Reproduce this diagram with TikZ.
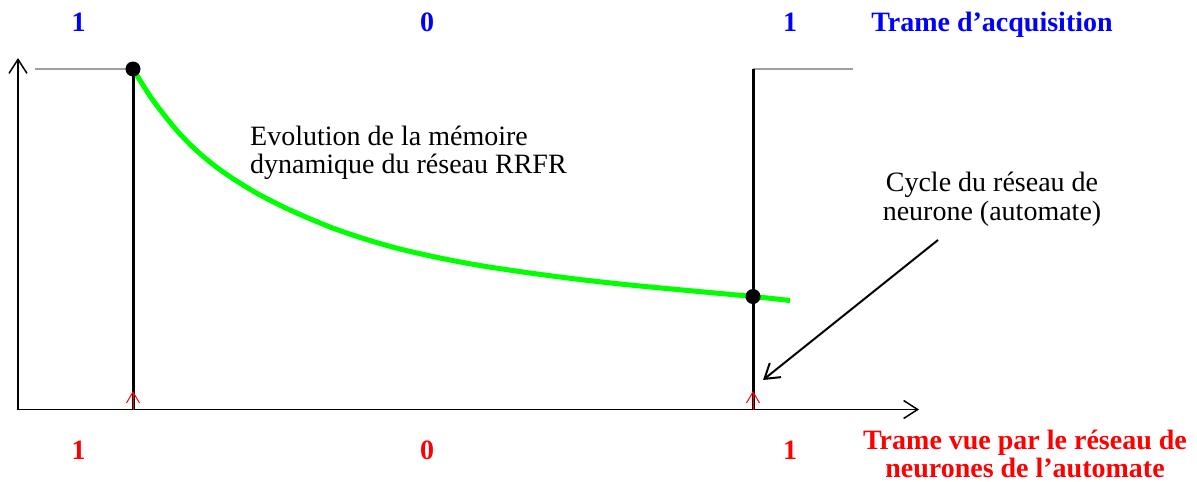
\documentclass[tikz,border=0pt]{standalone}
\usepackage{fontspec}
\setmainfont{Liberation Serif}
\usetikzlibrary{arrows.meta}
\definecolor{lgray}{RGB}{160,160,160}
\definecolor{pgreen}{RGB}{0,255,0}
\begin{document}
\begin{tikzpicture}[x=1pt,y=-1pt,
  axis/.style={line width=1.5pt,-{Straight Barb[length=14pt,width=18pt,line width=1.5pt]}},
  cyc/.style={line width=3pt},
  lvl/.style={line width=2pt,lgray},
  tickarr/.style={red,line width=1pt,-{Straight Barb[length=11pt,width=13pt,line width=1pt]}},
  pointer/.style={line width=2pt,-{Straight Barb[length=14pt,width=18pt,line width=2pt]}},
  dot/.style={circle,fill=black,inner sep=0pt,minimum size=15pt},
  bluelab/.style={blue,inner sep=0pt,anchor=base,font=\fontsize{28}{30}\selectfont\bfseries},
  redlab/.style={red,inner sep=0pt,anchor=base,font=\fontsize{28}{24}\selectfont\bfseries},
  txt/.style={inner sep=0pt,font=\fontsize{28}{28}\selectfont}
]
\useasboundingbox (0,0) rectangle (1197,482);

% axes
\coordinate (O) at (18,409.5);
\coordinate (Ytop) at (18,58);
\coordinate (Xend) at (919,409.5);
\draw[axis] (O) -- (Ytop);
\draw[axis] (O) -- (Xend);

% key points
\coordinate (p1) at (133,69);
\coordinate (p2) at (753,296.5);
\coordinate (c1b) at (133,409.5);
\coordinate (c2b) at (753,409.5);
\coordinate (c2t) at (753,69);
\coordinate (g1) at (35,69);
\coordinate (g2) at (853,69);

% level lines
\draw[lvl] (g1) -- (p1);
\draw[lvl] (c2t) -- (g2);

% cycle lines
\draw[cyc] (c1b) -- (p1);
\draw[cyc] (c2b) -- (c2t);

% green curve
\draw[pgreen,line width=5pt] plot[smooth,tension=0.5] coordinates {(133,69) (150,96) (165,116) (180,134) (197,151) (215,166) (235,180) (260,195) (290,210) (330,227) (365,239) (400,249) (440,258) (480,265.5) (530,273) (580,279.5) (630,285) (690,290.7) (753,296.5) (790,300.5)};

% dots
\node[dot] (d1) at (p1) {};
\node[dot] (d2) at (p2) {};

% red ticks
\coordinate (t1) at (133,391);
\coordinate (t2) at (753,391);
\draw[tickarr] (c1b) -- (t1);
\draw[tickarr] (c2b) -- (t2);

% pointer
\coordinate (ps) at (938,240);
\coordinate (pt) at (763,380);
\draw[pointer] (ps) -- (pt);

% top labels
\node[bluelab] (b1) at (78.5,31) {1};
\node[bluelab] (b0) at (427,31) {0};
\node[bluelab] (b2) at (790,31) {1};
\node[bluelab] (ta) at (992,31) {Trame d’acquisition};

% bottom labels
\node[redlab] (r1) at (78.5,459) {1};
\node[redlab] (r0) at (427,459) {0};
\node[redlab] (r2) at (790,459) {1};
\node[redlab] (tv1) at (1025,449) {Trame vue par le réseau de};
\node[redlab] (tv2) at (1025,477) {neurones de l’automate};

% annotations
\node[txt,anchor=base west] (e1) at (250,145.5) {Evolution de la mémoire};
\node[txt,anchor=base west] (e2) at (250,173.5) {dynamique du réseau RRFR};
\node[txt,anchor=base] (cy1) at (992,191.5) {Cycle du réseau de};
\node[txt,anchor=base] (cy2) at (992,220) {neurone (automate)};
\end{tikzpicture}
\end{document}
